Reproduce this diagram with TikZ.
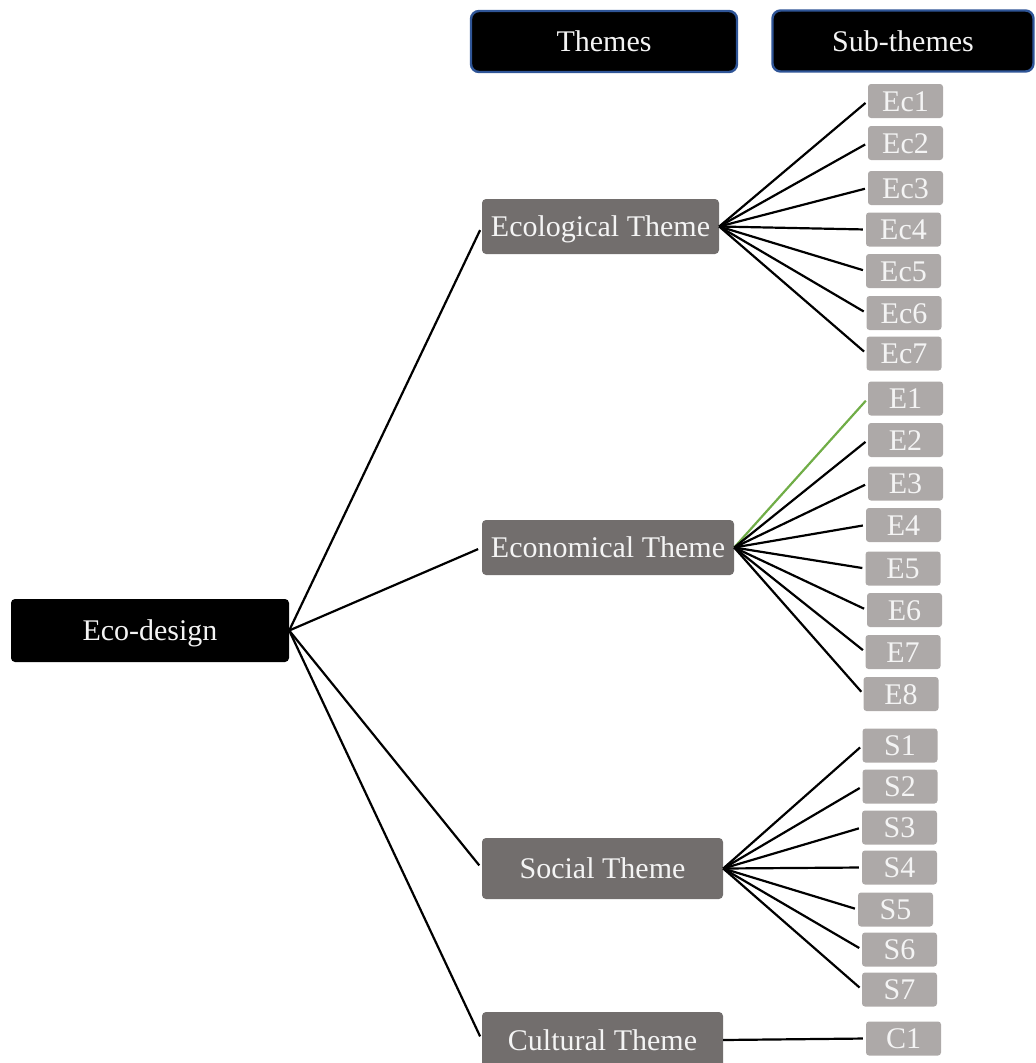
\documentclass[tikz,border=0pt]{standalone}
\usepackage{fontspec}
\setmainfont{Liberation Serif}
\definecolor{themegray}{HTML}{726E6D}
\definecolor{subgray}{HTML}{ADA9A8}
\definecolor{hdrblue}{HTML}{2F5597}
\definecolor{txtwhite}{HTML}{F4F4F4}
\definecolor{lgreen}{HTML}{70AD47}
\begin{document}
\begin{tikzpicture}[x=1pt,y=-1pt,
  every node/.style={font=\fontsize{30}{34}\selectfont, text=txtwhite, inner sep=1pt, align=center, text height=20pt, text depth=0pt},
  hdr/.style={fill=black, draw=hdrblue, line width=2.4pt, rounded corners=8pt, minimum height=61pt},
  root/.style={fill=black, rounded corners=4pt, minimum width=278pt, minimum height=63pt},
  theme/.style={fill=themegray, rounded corners=4pt},
  sub/.style={fill=subgray, rounded corners=3pt, minimum width=75pt, minimum height=34pt},
  link/.style={line width=2.2pt, black},
]
\useasboundingbox (0,0) rectangle (1036,1063);

\node[hdr, minimum width=266pt] (hthemes) at (604,41.5) {Themes};
\node[hdr, minimum width=261pt] (hsub) at (903,41) {Sub-themes};

\node[root] (eco) at (150,630.5) {Eco-design};

\node[theme, minimum width=237pt, minimum height=55pt] (ecol) at (600.5,226.5) {Ecological Theme};
\node[theme, minimum width=252pt, minimum height=55pt] (econ) at (608,547.5) {Economical Theme};
\node[theme, minimum width=241pt, minimum height=61pt] (soc) at (602.5,868.5) {Social Theme};
\node[theme, minimum width=241pt, minimum height=56pt] (cult) at (602.5,1040) {Cultural Theme};

% sub-themes
\node[sub] (ec1) at (905.5,101) {Ec1};
\node[sub] (ec2) at (905.5,143) {Ec2};
\node[sub] (ec3) at (905.5,188) {Ec3};
\node[sub] (ec4) at (903.5,229.5) {Ec4};
\node[sub] (ec5) at (903.5,271) {Ec5};
\node[sub] (ec6) at (904,313) {Ec6};
\node[sub] (ec7) at (904,353.5) {Ec7};

\node[sub] (e1) at (905.5,398.5) {E1};
\node[sub] (e2) at (905.5,440) {E2};
\node[sub] (e3) at (905.5,483.5) {E3};
\node[sub] (e4) at (903.5,525) {E4};
\node[sub] (e5) at (903,568.5) {E5};
\node[sub] (e6) at (904.5,610) {E6};
\node[sub] (e7) at (903,652) {E7};
\node[sub] (e8) at (901,694) {E8};

\node[sub] (s1) at (900,745.5) {S1};
\node[sub] (s2) at (900,786.5) {S2};
\node[sub] (s3) at (899.5,827.5) {S3};
\node[sub] (s4) at (899.5,867.5) {S4};
\node[sub] (s5) at (895.5,909.5) {S5};
\node[sub] (s6) at (899.5,949.5) {S6};
\node[sub] (s7) at (899.5,989.5) {S7};

\node[sub] (c1) at (903.5,1038.5) {C1};

% root links
\foreach \t in {ecol,econ,soc,cult}
  \draw[link, shorten >=4pt] (eco.east) -- (\t.west);

% theme to sub links
\foreach \s in {ec1,ec2,ec3,ec4,ec5,ec6,ec7}
  \draw[link, shorten >=3pt] (ecol.east) -- (\s.west);
\draw[line width=2.2pt, lgreen, shorten >=3pt] (econ.east) -- (e1.west);
\foreach \s in {e2,e3,e4,e5,e6,e7,e8}
  \draw[link, shorten >=3pt] (econ.east) -- (\s.west);
\foreach \s in {s1,s2,s3,s4,s5,s6,s7}
  \draw[link, shorten >=3pt] (soc.east) -- (\s.west);
\draw[link, shorten >=3pt] (cult.east) -- (c1.west);
\end{tikzpicture}
\end{document}
